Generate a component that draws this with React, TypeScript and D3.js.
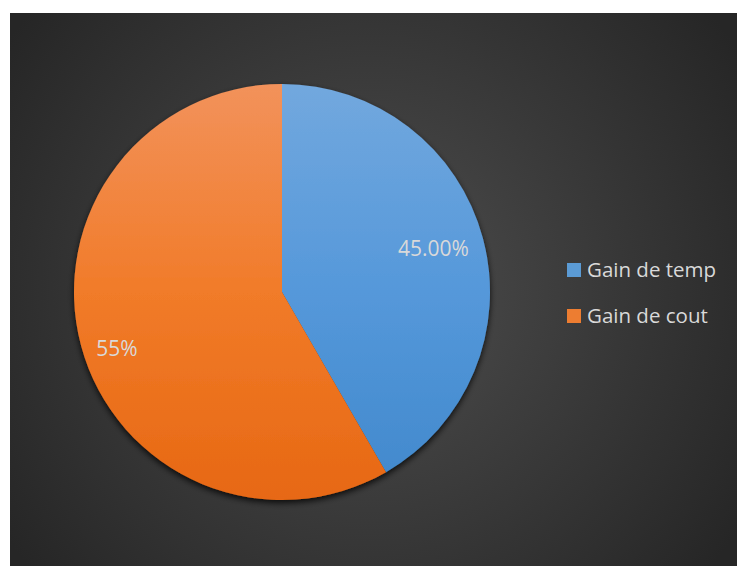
import React from "react";
import * as d3 from "d3";

const categories = ["Gain de temp", "Gain de cout"];
const values = [0.45, 0.63];
const labels = ["45.00%", "55%"];
const topColors = ["#72a8de", "#f2925b"];
const midColors = ["#5598da", "#f17b29"];
const bottomColors = ["#4088cc", "#e76813"];
const legendColors = ["#5b9bd5", "#ed7d31"];

const W = 737;
const H = 566;

export default function App() {
  const cx = 282;
  const cy = 292;
  const r = 208;
  const pie = d3.pie<number>().sort(null).value((d) => d)(values);
  const arc = d3.arc<d3.PieArcDatum<number>>().innerRadius(0).outerRadius(r);
  const labelPos = [
    [433.5, 256],
    [117, 356],
  ];
  const legendY = d3.scalePoint<string>().domain(categories).range([270, 316]);
  return (
    <svg
      width={W}
      height={H}
      style={{ position: "absolute", left: 0, top: 0 }}
      fontFamily="'Open Sans', sans-serif"
    >
      <defs>
        <radialGradient id="bg" cx="370" cy="290" r="440" gradientUnits="userSpaceOnUse">
          <stop offset="0" stopColor="#4e4e4e" />
          <stop offset="1" stopColor="#262626" />
        </radialGradient>
        {categories.map((c, i) => (
          <linearGradient
            key={c}
            id={`g${i}`}
            gradientUnits="userSpaceOnUse"
            x1={0}
            y1={-r}
            x2={0}
            y2={r}
          >
            <stop offset="0" stopColor={topColors[i]} />
            <stop offset="0.5" stopColor={midColors[i]} />
            <stop offset="1" stopColor={bottomColors[i]} />
          </linearGradient>
        ))}
        <filter id="sh" x="-20%" y="-20%" width="140%" height="140%">
          <feGaussianBlur in="SourceAlpha" stdDeviation="3" />
          <feOffset dx="0" dy="3" result="b" />
          <feComponentTransfer>
            <feFuncA type="linear" slope="0.8" />
          </feComponentTransfer>
          <feMerge>
            <feMergeNode />
            <feMergeNode in="SourceGraphic" />
          </feMerge>
        </filter>
      </defs>
      <rect x={10} y={13} width={W - 10} height={H - 13} fill="url(#bg)" />
      <g transform={`translate(${cx},${cy})`} filter="url(#sh)">
        {pie.map((p, i) => (
          <path key={i} d={arc(p) || ""} fill={`url(#g${i})`} />
        ))}
      </g>
      {labels.map((l, i) => (
        <text
          key={l}
          x={labelPos[i][0]}
          y={labelPos[i][1]}
          textAnchor="middle"
          fontSize={21}
          fill="#d9d9d9"
        >
          {l}
        </text>
      ))}
      {categories.map((c, i) => (
        <g key={c}>
          <rect x={567} y={(legendY(c) as number) - 7} width={14} height={14} fill={legendColors[i]} />
          <text x={587} y={(legendY(c) as number) + 7} fontSize={20.5} fill="#d9d9d9">
            {c}
          </text>
        </g>
      ))}
    </svg>
  );
}
